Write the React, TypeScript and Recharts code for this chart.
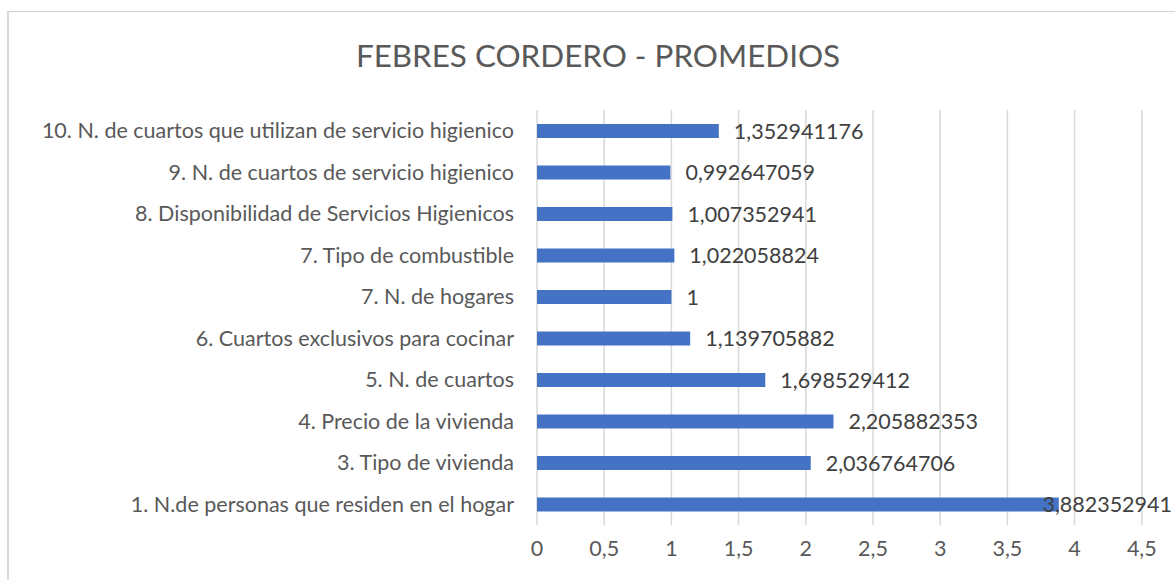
import React from 'react';
import { BarChart, Bar, XAxis, YAxis, CartesianGrid, LabelList } from 'recharts';

// bottom to top, as in the picture
const categories = [
  '1. N.de personas que residen en el hogar',
  '3. Tipo de vivienda',
  '4. Precio de la vivienda',
  '5. N. de cuartos',
  '6. Cuartos exclusivos para cocinar',
  '7. N. de hogares',
  '7. Tipo de combustible',
  '8. Disponibilidad de Servicios Higienicos',
  '9. N. de cuartos de servicio higienico ',
  '10. N. de cuartos que utilizan de servicio higienico',
];

const promedios = [
  3.882352941, 2.036764706, 2.205882353, 1.698529412, 1.139705882, 1, 1.022058824, 1.007352941,
  0.992647059, 1.352941176,
];

// the axis runs to 5 but the picture is cut just after 4,5
const xTicks = [0, 0.5, 1, 1.5, 2, 2.5, 3, 3.5, 4, 4.5];

// recharts draws the first row at the top, so reverse
const data = categories.map((cat, i) => ({ cat, value: promedios[i] })).reverse();

const commaNum = (v: number) => String(v).replace('.', ',');

const FONT = 'Lato, "Open Sans", sans-serif';
const GRAY = '#595959';
const LABEL_SIZE = 21.5;
const RIGHT_LIMIT = 1163; // last visible x inside the chart

// value label right of the bar; pulled back when it would run off the page
function ValueLabel(props: any) {
  const { x, y, width, height, value } = props;
  const text = commaNum(value);
  const estW = text.length * LABEL_SIZE * 0.55;
  let tx = x + width + 15;
  let anchor: 'start' | 'end' = 'start';
  if (tx + estW > RIGHT_LIMIT) {
    tx = RIGHT_LIMIT;
    anchor = 'end';
  }
  return (
    <text
      x={tx}
      y={y + height / 2}
      dy="0.35em"
      textAnchor={anchor}
      fontSize={LABEL_SIZE}
      fontFamily={FONT}
      fill="#404040"
    >
      {text}
    </text>
  );
}

export default function App() {
  return (
    <div style={{ position: 'fixed', left: 0, top: 0, width: 1175, height: 580, overflow: 'hidden', background: '#fff' }}>
      <div
        style={{
          position: 'absolute',
          left: 7,
          top: 11,
          width: 1300,
          height: 700,
          borderTop: '1px solid #d0d0d0',
          borderLeft: '2px solid #d9d9d9',
          boxSizing: 'border-box',
          background: '#fff',
        }}
      >
        <div
          style={{
            position: 'absolute',
            left: 0,
            top: 24,
            width: 1178,
            textAlign: 'center',
            fontFamily: FONT,
            fontSize: 31.4,
            color: GRAY,
          }}
        >
          FEBRES CORDERO - PROMEDIOS
        </div>
        <BarChart
          width={1220}
          height={600}
          data={data}
          layout="vertical"
          margin={{ top: 98, right: 20, left: 0, bottom: 47 }}
          barSize={14}
        >
          <CartesianGrid horizontal={false} stroke="#d9d9d9" strokeWidth={1.5} />
          <XAxis
            type="number"
            domain={[0, 5]}
            ticks={xTicks}
            tickFormatter={commaNum}
            axisLine={false}
            tickLine={false}
            tickSize={0}
            tickMargin={16}
            height={40}
            tick={{ fontSize: LABEL_SIZE, fill: GRAY, fontFamily: FONT }}
          />
          <YAxis
            type="category"
            dataKey="cat"
            width={528}
            axisLine={false}
            tickLine={false}
            tickSize={0}
            tickMargin={23}
            interval={0}
            tick={{ fontSize: LABEL_SIZE, fill: GRAY, fontFamily: FONT }}
          />
          <Bar dataKey="value" fill="#4472c4" isAnimationActive={false}>
            <LabelList dataKey="value" content={<ValueLabel />} />
          </Bar>
        </BarChart>
      </div>
    </div>
  );
}
